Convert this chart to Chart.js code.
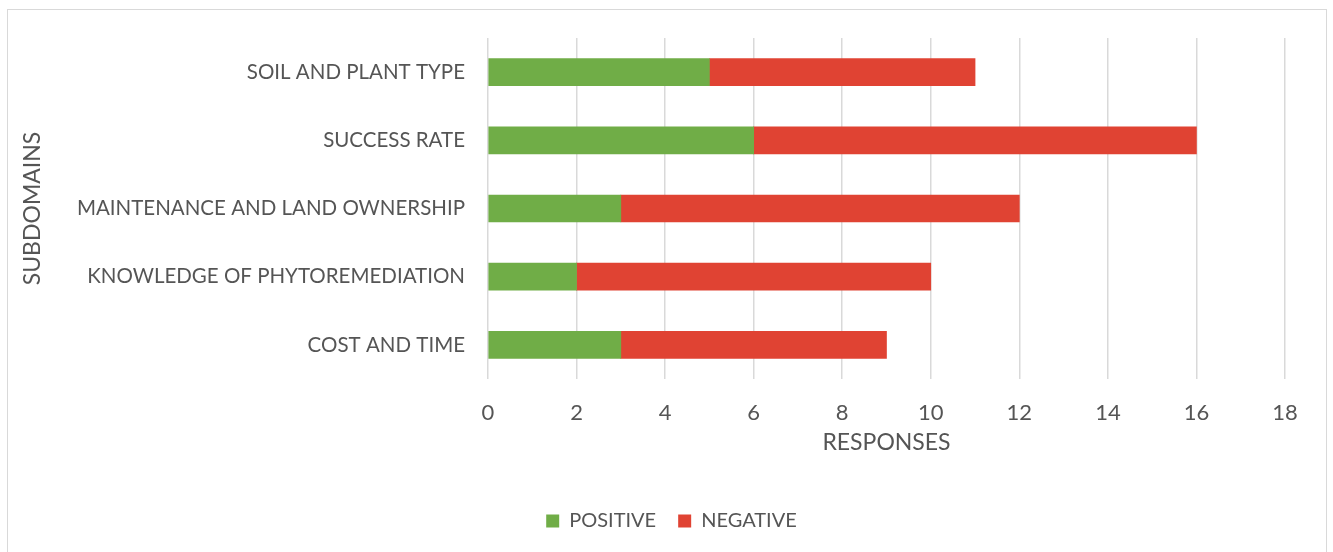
<!DOCTYPE html>
<html>
<head>
<meta charset="utf-8">
<script src="https://cdn.jsdelivr.net/npm/chart.js@4"></script>
<style>
  html, body { margin: 0; padding: 0; background: #fff; }
  #wrap { position: relative; width: 1333px; height: 552px; overflow: hidden; }
  #frame { position: absolute; left: 7px; top: 9px; width: 1318px; height: 600px; border: 1.5px solid #d9d9d9; }
  canvas { position: absolute; left: 0; top: 0; }
</style>
</head>
<body>
<div id="wrap">
  <div id="frame"></div>
  <canvas id="chart" width="1333" height="552"></canvas>
</div>
<script>
const categories = [
  'SOIL AND PLANT TYPE',
  'SUCCESS RATE',
  'MAINTENANCE AND LAND OWNERSHIP',
  'KNOWLEDGE OF PHYTOREMEDIATION',
  'COST AND TIME'
];
const positive = [5, 6, 3, 2, 3];
const negative = [6, 10, 9, 8, 6];
const xTicks = [0, 2, 4, 6, 8, 10, 12, 14, 16, 18];

const textColor = '#555555';
const fontFamily = 'Lato, "Open Sans", sans-serif';

// centre the legend on the whole frame rather than between the paddings
const legendShift = {
  id: 'legendShift',
  afterLayout(chart) {
    if (chart.legend) {
      chart.legend.left += 25;
      chart.legend.right += 25;
    }
  }
};

const config = {
  type: 'bar',
  data: {
    labels: categories,
    datasets: [
      { label: 'POSITIVE', data: positive, backgroundColor: '#70ad47', barThickness: 27 },
      { label: 'NEGATIVE', data: negative, backgroundColor: '#e04333', barThickness: 27 }
    ]
  },
  options: {
    indexAxis: 'y',
    responsive: false,
    animation: false,
    layout: { padding: { left: 8, top: 38, right: 48, bottom: 11 } },
    plugins: {
      legend: {
        position: 'bottom',
        labels: {
          color: textColor,
          font: { family: fontFamily, size: 20 },
          boxWidth: 13,
          boxHeight: 13,
          padding: 22
        }
      },
      tooltip: { enabled: false }
    },
    scales: {
      x: {
        stacked: true,
        min: 0,
        max: 18,
        afterBuildTicks: (axis) => { axis.ticks = xTicks.map(v => ({ value: v })); },
        afterFit: (axis) => { axis.height = 110; },
        grid: { color: '#d9d9d9', lineWidth: 1.5, drawTicks: false },
        border: { display: false },
        ticks: { color: textColor, font: { family: fontFamily, size: 22 }, padding: 21 },
        title: {
          display: true,
          text: 'RESPONSES',
          color: textColor,
          font: { family: fontFamily, size: 23 },
          padding: { top: 0, bottom: 33 }
        }
      },
      y: {
        stacked: true,
        afterFit: (axis) => { axis.width = 480; },
        grid: { display: false, drawTicks: false },
        border: { display: false },
        ticks: { color: textColor, font: { family: fontFamily, size: 20.5 }, padding: 23 },
        title: {
          display: true,
          text: 'SUBDOMAINS',
          color: textColor,
          font: { family: fontFamily, size: 23 },
          padding: { top: 11, bottom: 0 }
        }
      }
    }
  },
  plugins: [legendShift]
};

new Chart(document.getElementById('chart'), config);
</script>
</body>
</html>
